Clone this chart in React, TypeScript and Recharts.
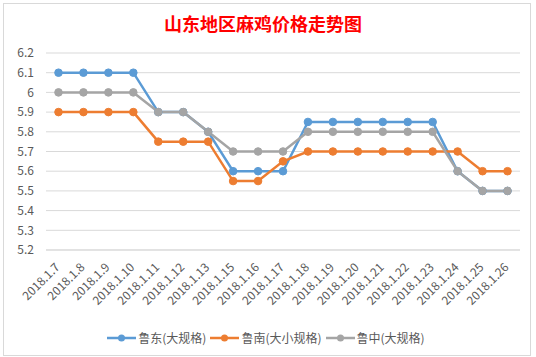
import { LineChart, Line, XAxis, YAxis, CartesianGrid } from "recharts";

const dates = [
  "2018.1.7", "2018.1.8", "2018.1.9", "2018.1.10", "2018.1.11", "2018.1.12",
  "2018.1.13", "2018.1.15", "2018.1.16", "2018.1.17", "2018.1.18", "2018.1.19",
  "2018.1.20", "2018.1.21", "2018.1.22", "2018.1.23", "2018.1.24", "2018.1.25",
  "2018.1.26",
];

const ludong = [6.1, 6.1, 6.1, 6.1, 5.9, 5.9, 5.8, 5.6, 5.6, 5.6, 5.85, 5.85, 5.85, 5.85, 5.85, 5.85, 5.6, 5.5, 5.5];
const lunan = [5.9, 5.9, 5.9, 5.9, 5.75, 5.75, 5.75, 5.55, 5.55, 5.65, 5.7, 5.7, 5.7, 5.7, 5.7, 5.7, 5.7, 5.6, 5.6];
const luzhong = [6.0, 6.0, 6.0, 6.0, 5.9, 5.9, 5.8, 5.7, 5.7, 5.7, 5.8, 5.8, 5.8, 5.8, 5.8, 5.8, 5.6, 5.5, 5.5];

const yTicks = [5.2, 5.3, 5.4, 5.5, 5.6, 5.7, 5.8, 5.9, 6.0, 6.1, 6.2];

const series = [
  { key: "ludong", name: "鲁东(大规格)", color: "#5B9BD5" },
  { key: "lunan", name: "鲁南(大小规格)", color: "#ED7D31" },
  { key: "luzhong", name: "鲁中(大规格)", color: "#A5A5A5" },
];

const data = dates.map((d, i) => ({
  date: d,
  ludong: ludong[i],
  lunan: lunan[i],
  luzhong: luzhong[i],
}));

const font = "'Noto Sans CJK SC', 'Liberation Sans', sans-serif";

const DateTick = (props: any) => {
  const { x, y, payload } = props;
  return (
    <g transform={`translate(${x + 2},${y + 10})`}>
      <text
        transform="rotate(-45)"
        textAnchor="end"
        fontSize={12}
        fill="#595959"
        fontFamily={font}
      >
        {payload.value}
      </text>
    </g>
  );
};

const LegendItem = ({ name, color }: { name: string; color: string }) => (
  <div style={{ display: "flex", alignItems: "center", marginRight: 4 }}>
    <svg width={29} height={10}>
      <line x1={0} y1={5} x2={29} y2={5} stroke={color} strokeWidth={2.5} />
      <circle cx={14.5} cy={5} r={3.5} fill={color} />
    </svg>
    <span style={{ marginLeft: 2 }}>{name}</span>
  </div>
);

export default function App() {
  return (
    <div style={{ position: "absolute", left: 0, top: 0, width: 536, height: 357, background: "#fff" }}>
      <div
        style={{
          position: "absolute",
          left: 3,
          top: 3,
          width: 526,
          height: 351,
          border: "1px solid #d9d9d9",
        }}
      />
      <div
        style={{
          position: "absolute",
          left: 0,
          top: 10,
          width: 526,
          textAlign: "center",
          color: "#FF0000",
          fontFamily: font,
          fontWeight: 700,
          fontSize: 18,
        }}
      >
        山东地区麻鸡价格走势图
      </div>
      <LineChart
        width={536}
        height={357}
        data={data}
        margin={{ top: 53, right: 16, left: 6, bottom: 47 }}
        style={{ position: "absolute", left: 0, top: 0 }}
      >
        <CartesianGrid vertical={false} stroke="#d9d9d9" />
        <XAxis
          dataKey="date"
          interval={0}
          height={60}
          padding={{ left: 12.5, right: 12.5 }}
          axisLine={{ stroke: "#d9d9d9" }}
          tickLine={false}
          tick={<DateTick />}
        />
        <YAxis
          width={40}
          domain={[5.2, 6.2]}
          ticks={yTicks}
          interval={0}
          axisLine={false}
          tickLine={false}
          tickMargin={6}
          tick={{ fontSize: 12, fill: "#595959", fontFamily: font }}
        />
        {series.map((s) => (
          <Line
            key={s.key}
            dataKey={s.key}
            name={s.name}
            stroke={s.color}
            strokeWidth={2.5}
            dot={{ r: 3.8, fill: s.color, stroke: s.color, strokeWidth: 1 }}
            isAnimationActive={false}
          />
        ))}
      </LineChart>
      <div
        style={{
          position: "absolute",
          left: 0,
          top: 329,
          width: 536,
          display: "flex",
          justifyContent: "center",
          fontFamily: font,
          fontSize: 12,
          color: "#595959",
        }}
      >
        {series.map((s) => (
          <LegendItem key={s.key} name={s.name} color={s.color} />
        ))}
      </div>
    </div>
  );
}
